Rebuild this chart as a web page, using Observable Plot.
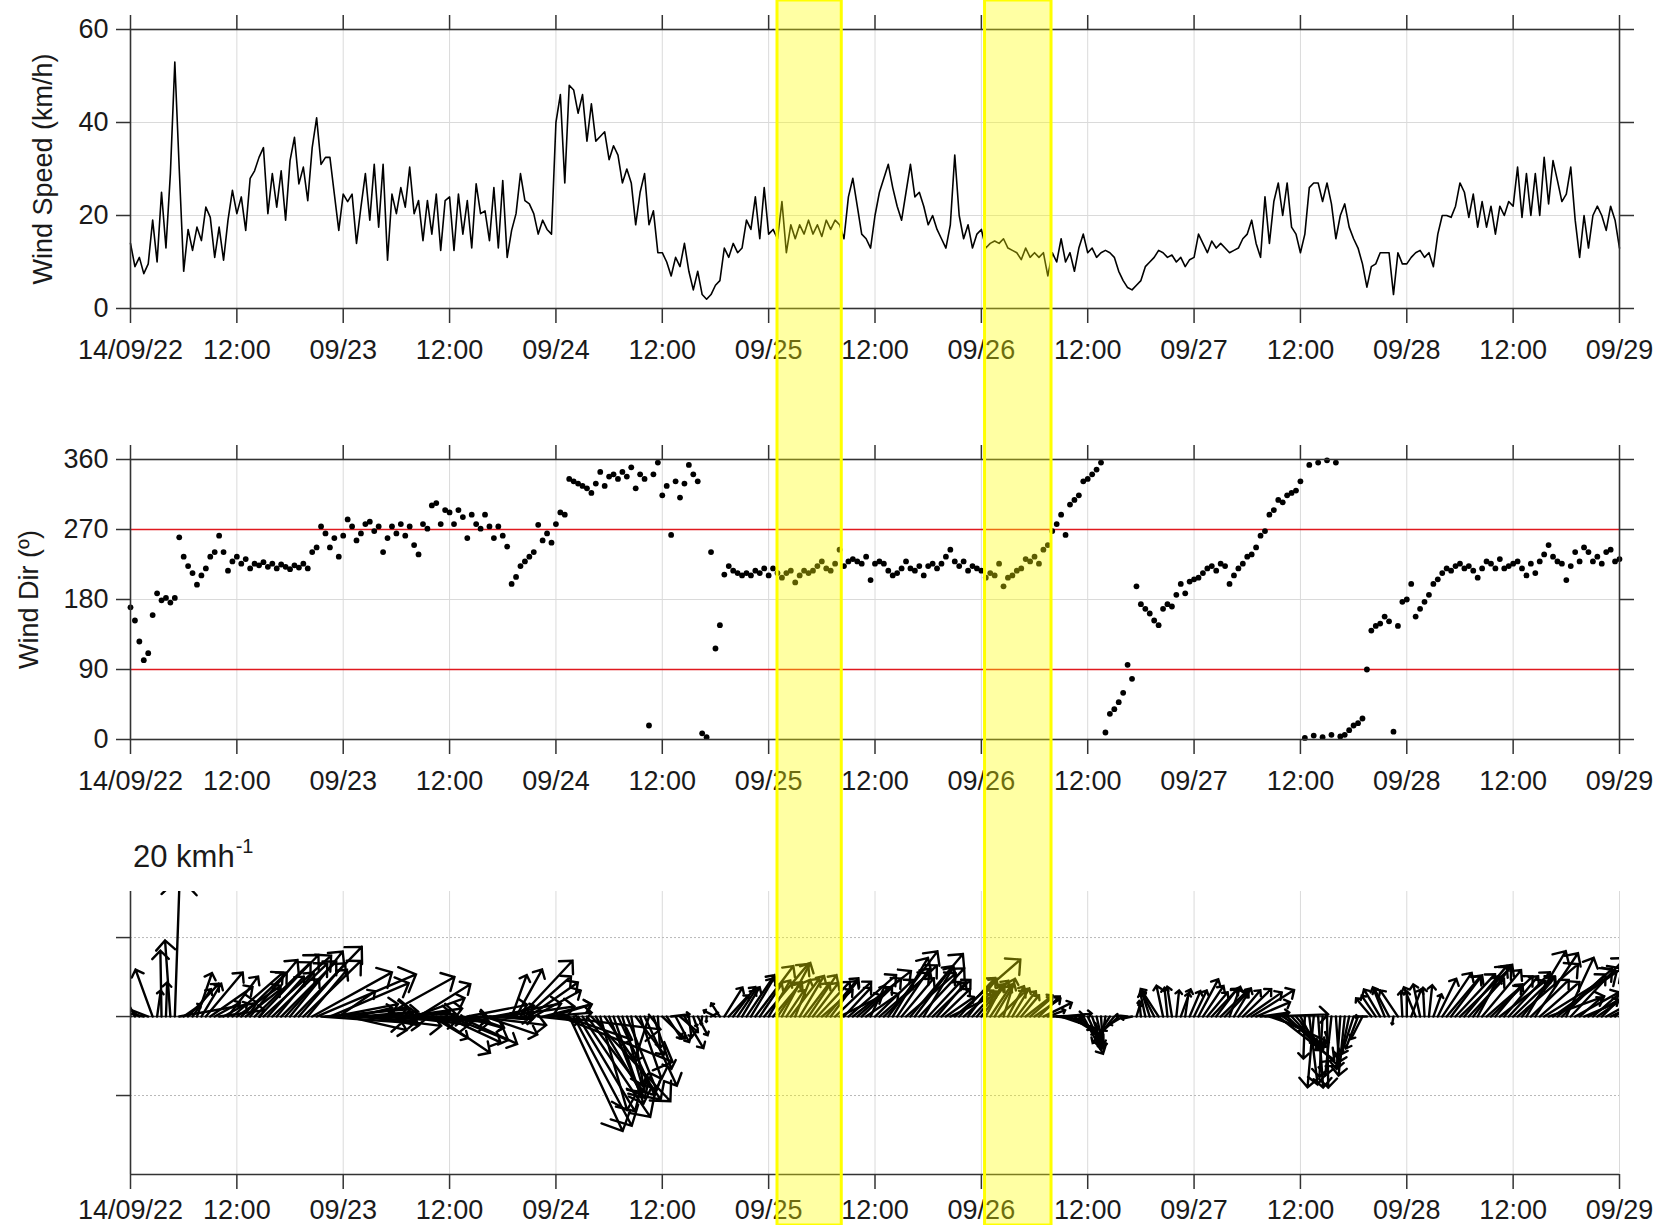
<!DOCTYPE html>
<html>
<head>
<meta charset="utf-8">
<script src="https://cdn.jsdelivr.net/npm/d3@7"></script>
<script src="https://cdn.jsdelivr.net/npm/@observablehq/plot@0.6"></script>
<style>
  html, body { margin: 0; padding: 0; background: #fff; }
  #chart { position: relative; width: 1673px; height: 1225px; overflow: hidden;
           font-family: "Liberation Sans", Arial, Helvetica, sans-serif; }
  .panel { position: absolute; left: 0; }
  .panel svg { overflow: visible; }
  #bands { position: absolute; left: 0; top: 0; pointer-events: none; }
  #scale-label { position: absolute; left: 133px; top: 834px; font-size: 31px;
                 line-height: 31px; color: #1a1a1a; white-space: nowrap; }
  #scale-label sup { font-size: 20px; position: relative; top: -3px; margin-left: 1px; }
</style>
</head>
<body>
<div id="chart">
  <div id="p1" class="panel" style="top:0px"></div>
  <div id="p2" class="panel" style="top:400px"></div>
  <div id="p3" class="panel" style="top:809px"></div>
  <div id="scale-label">20 kmh<sup>-1</sup></div>
  <div id="bands"></div>
</div>
<script>
// ---- time axis -------------------------------------------------------------
const startTime = Date.UTC(2014, 8, 22, 0, 0);      // 22 Sep 2014 00:00
const sampleMinutes = 30;                            // one record every 30 min

const xTickHours = [0, 12, 24, 36, 48, 60, 72, 84, 96, 108, 120, 132, 144, 156, 168];
const xTickLabels = ["14/09/22", "12:00", "09/23", "12:00", "09/24", "12:00", "09/25",
                     "12:00", "09/26", "12:00", "09/27", "12:00", "09/28", "12:00", "09/29"];

const speedTicks = [0, 20, 40, 60];
const dirTicks = [0, 90, 180, 270, 360];
const dirRefLines = [90, 270];
const vectorTicks = [-30, 0, 30];

// highlighted periods
const bandStart = ["2014-09-25T01:00Z", "2014-09-26T00:25Z"];
const bandEnd   = ["2014-09-25T08:15Z", "2014-09-26T07:55Z"];

// ---- wind speed (km/h), 30-min records, 22 Sep 00:00 .. 29 Sep 00:00 ----------
const windSpeed = [
  // 09/22
  14, 9, 11, 7.5, 9.6, 19, 10, 25, 13, 29, 53, 30,
  8, 17, 12.5, 17.5, 14.6, 21.8, 19.6, 11, 17.5, 10.4, 19, 25.4,
  20.4, 24, 16.8, 28, 29.6, 32.5, 34.6, 20.4, 29, 21.8, 29.6, 19,
  31.8, 36.8, 26.8, 30.4, 23.2, 34.6, 41, 31, 32.5, 32.5, 24.6, 16.8,
  // 09/23
  24.6, 23, 24.6, 14, 21.8, 29, 19, 31, 17.5, 31, 10.4, 24.6,
  20.4, 26, 21.8, 30.4, 20.4, 23.2, 14.6, 23.2, 16, 24.6, 12.5, 23.2,
  24, 12.5, 24.6, 16, 23.2, 13, 26.8, 20.4, 21, 14.6, 26, 13,
  27.5, 11, 16.8, 20.4, 29, 23.2, 22.5, 20.4, 16, 19, 17, 16,
  // 09/24
  40, 46, 27, 48, 47, 42, 46, 36, 44, 36, 37, 38,
  32, 35, 33, 27, 30, 27, 18, 25, 29, 18, 21, 12,
  12, 10, 7, 11, 9, 14, 8, 4, 8, 3, 2, 3,
  5, 6, 13, 11, 14, 12, 13, 19, 17, 24, 15, 26,
  // 09/25
  16, 17, 15, 23, 12, 18, 15, 18, 16, 19, 16, 18,
  15.5, 19, 17, 19, 18, 15, 24, 28, 22, 16, 15, 13,
  20, 25, 28, 31, 26, 22, 19, 25, 31, 24, 25, 22,
  18, 20, 17, 15, 13, 18, 33, 20, 15, 18, 13, 16,
  // 09/26
  17, 13, 14, 14.5, 14, 15, 13, 12.5, 12, 10.5, 13, 11,
  12, 11, 12, 7, 12, 10, 15, 10, 12, 8, 13, 16,
  12, 13, 11, 12, 12.5, 12, 11, 8, 6, 4.5, 4, 5,
  6, 9, 10, 11, 12.5, 12, 11, 11.5, 10, 11, 9, 10.5,
  // 09/27
  11, 16, 14, 12, 14.5, 13, 14, 13, 12, 12.5, 13, 15,
  16, 19, 14, 11, 24, 14, 23, 27, 20, 27, 17.5, 16,
  12, 16, 26, 27, 27, 23, 27, 22.5, 15, 20, 22.5, 17.5,
  15, 13, 9.6, 4.6, 9, 9.6, 12, 12, 12, 3, 12, 9.6,
  // 09/28
  9.6, 11, 12, 12.5, 11, 12, 9, 16, 20, 20, 19.6, 22,
  27, 25, 19.6, 24.6, 17.5, 23, 17.5, 22, 16, 22, 20, 23,
  22, 30.4, 19.6, 29, 20, 29, 20, 32.5, 22.5, 31.8, 27.5, 23,
  24.6, 30.4, 19, 11, 20, 13, 20, 22, 20, 16.8, 22, 19,
  // 09/29 00:00
  13
];

// ---- wind direction (degrees, direction the wind comes from) -----------------
const windDir = [
  // 09/22
  170, 153, 126, 102, 111, 160, 188, 179, 182, 176, 182, 260,
  235, 223, 214, 199, 211, 220, 235, 241, 262, 241, 217, 229,
  235, 226, 232, 220, 226, 224, 228, 222, 226, 220, 225, 222,
  219, 224, 221, 226, 220, 241, 247, 274, 265, 247, 259, 235,
  // 09/23
  262, 283, 274, 256, 265, 277, 280, 268, 274, 241, 259, 274,
  265, 277, 262, 274, 250, 238, 277, 271, 301, 304, 277, 295,
  292, 277, 295, 286, 259, 289, 277, 271, 289, 274, 259, 274,
  262, 248, 200, 209, 223, 229, 235, 241, 276, 256, 265, 253,
  // 09/24
  277, 292, 289, 335, 332, 329, 326, 323, 317, 329, 344, 326,
  338, 341, 335, 344, 338, 350, 323, 341, 335, 18, 341, 356,
  314, 326, 263, 332, 311, 329, 353, 341, 332, 8, 3, 241,
  117, 147, 212, 223, 217, 214, 211, 214, 211, 217, 214, 220,
  // 09/25
  211, 220, 214, 208, 214, 217, 202, 211, 217, 214, 217, 223,
  229, 220, 217, 226, 244, 223, 229, 232, 229, 226, 235, 205,
  226, 229, 226, 217, 211, 214, 220, 229, 220, 217, 223, 211,
  223, 226, 220, 226, 235, 244, 229, 223, 229, 217, 223, 220,
  // 09/26
  217, 208, 214, 211, 226, 197, 208, 211, 217, 220, 232, 229,
  235, 226, 244, 250, 268, 277, 289, 263, 302, 308, 314, 332,
  335, 341, 347, 356, 9, 33, 39, 48, 60, 96, 78, 197,
  174, 168, 162, 153, 147, 168, 174, 171, 186, 200, 188, 203,
  // 09/27
  206, 208, 214, 220, 223, 217, 226, 223, 200, 211, 220, 226,
  235, 238, 247, 262, 268, 289, 295, 308, 305, 314, 317, 320,
  332, 2, 353, 5, 356, 3, 359, 6, 356, 4, 6, 12,
  18, 21, 27, 90, 140, 146, 149, 158, 152, 10, 146, 177,
  // 09/28
  180, 200, 158, 168, 177, 186, 200, 206, 214, 220, 217, 223,
  226, 220, 223, 217, 208, 220, 229, 226, 220, 232, 220, 223,
  226, 229, 220, 211, 226, 214, 229, 238, 250, 235, 229, 226,
  205, 223, 241, 229, 247, 241, 229, 235, 226, 241, 244, 229,
  // 09/29 00:00
  232
];

// ---- tables built from the arrays above ----------------------------------------
const records = windSpeed.map((speed, i) => ({
  time: new Date(startTime + i * sampleMinutes * 60000),
  speed,
  dir: windDir[i]
}));
const xTicks = xTickHours.map(h => new Date(startTime + h * 3600000));
const bands = bandStart.map((s, i) => ({start: new Date(s), end: new Date(bandEnd[i])}));

// ---- shared layout / styling ------------------------------------------------------
const FONT = '"Liberation Sans", Arial, Helvetica, sans-serif';
const INK = "#1a1a1a";
const AXIS = "#333";
const GRID = "#dadada";
const FS = 27;
const WIDTH = 1673, ML = 130, MR = 54;
const xScale = {type: "utc", domain: [xTicks[0], xTicks[xTicks.length - 1]]};
const style = {fontFamily: FONT, fontSize: FS + "px", color: INK, background: "transparent", overflow: "visible"};
const xLabel = d => { const k = xTicks.findIndex(t => +t === +d); return k < 0 ? "" : xTickLabels[k]; };

function bottomAxis(pad) {
  return Plot.axisX({anchor: "bottom", ticks: xTicks, tickSize: 15, tickPadding: pad,
                     tickFormat: xLabel, label: null, stroke: AXIS, strokeWidth: 1.5, fill: INK});
}
function topTicks() {
  return Plot.axisX({anchor: "top", ticks: xTicks, tickSize: 15, tickFormat: () => "",
                     label: null, stroke: AXIS, strokeWidth: 1.5});
}
function yTitle(text, dx) {
  return Plot.text([text], {text: d => d, frameAnchor: "left", dx, rotate: -90,
                            fontSize: FS, fill: INK, textAnchor: "middle"});
}

// ---- panel 1: wind speed ---------------------------------------------------------
const p1 = Plot.plot({
  width: WIDTH, height: 29 + 279 + 70,
  marginLeft: ML, marginRight: MR, marginTop: 29, marginBottom: 70,
  x: xScale,
  y: {domain: [0, 60]},
  style,
  marks: [
    Plot.gridX({ticks: xTicks, stroke: GRID, strokeOpacity: 1}),
    Plot.gridY({ticks: [20, 40], stroke: GRID, strokeOpacity: 1}),
    Plot.line(records, {x: "time", y: "speed", stroke: "#000", strokeWidth: 1.6}),
    Plot.frame({stroke: AXIS, strokeWidth: 1.6}),
    bottomAxis(16),
    topTicks(),
    Plot.axisY({anchor: "left", ticks: speedTicks, tickSize: 14, tickPadding: 8,
                label: null, stroke: AXIS, strokeWidth: 1.5, fill: INK}),
    Plot.axisY({anchor: "right", ticks: speedTicks, tickSize: 14, tickFormat: () => "",
                label: null, stroke: AXIS, strokeWidth: 1.5}),
    yTitle("Wind Speed (km/h)", -87)
  ]
});
document.getElementById("p1").append(p1);

// ---- panel 2: wind direction -----------------------------------------------------
const p2 = Plot.plot({
  width: WIDTH, height: 59 + 280 + 70,
  marginLeft: ML, marginRight: MR, marginTop: 59, marginBottom: 70,
  x: xScale,
  y: {domain: [0, 360]},
  style,
  marks: [
    Plot.gridX({ticks: xTicks, stroke: GRID, strokeOpacity: 1}),
    Plot.gridY({ticks: [180], stroke: GRID, strokeOpacity: 1}),
    Plot.ruleY(dirRefLines, {stroke: "#e0191f", strokeWidth: 1.3}),
    Plot.dot(records, {x: "time", y: "dir", r: 2.9, fill: "#000", stroke: null}),
    Plot.frame({stroke: AXIS, strokeWidth: 1.6}),
    bottomAxis(16),
    topTicks(),
    Plot.axisY({anchor: "left", ticks: dirTicks, tickSize: 14, tickPadding: 8,
                label: null, stroke: AXIS, strokeWidth: 1.5, fill: INK}),
    Plot.axisY({anchor: "right", ticks: dirTicks, tickSize: 14, tickFormat: () => "",
                label: null, stroke: AXIS, strokeWidth: 1.5}),
    yTitle("Wind Dir (º)", -101)
  ]
});
document.getElementById("p2").append(p2);

// ---- panel 3: wind vectors (arrows point where the wind blows to) -------------------
const vecMin = -60, vecMax = 47.5, vecFrame = 283;
const pxPerKmh = vecFrame / (vecMax - vecMin);       // same scale along both directions
const p3 = Plot.plot({
  width: WIDTH, height: 82 + vecFrame + 51,
  marginLeft: ML, marginRight: MR, marginTop: 82, marginBottom: 51,
  x: xScale,
  y: {domain: [vecMin, vecMax]},
  length: {type: "linear", domain: [0, 30], range: [0, 30 * pxPerKmh]},
  style,
  marks: [
    Plot.gridX({ticks: xTicks, stroke: GRID, strokeOpacity: 1}),
    Plot.gridY({ticks: [-30, 30], stroke: "#b8b8b8", strokeOpacity: 1, strokeDasharray: "2,2"}),
    Plot.ruleY([0], {stroke: AXIS, strokeWidth: 1.6}),
    Plot.vector(records, {x: "time", y: () => 0, length: "speed", rotate: d => d.dir + 180,
                          anchor: "start", r: 2.2, stroke: "#000", strokeWidth: 2.4,
                          strokeLinejoin: "miter", clip: true}),
    Plot.ruleY([vecMin], {stroke: AXIS, strokeWidth: 1.6}),
    Plot.ruleX([xTicks[0]], {stroke: AXIS, strokeWidth: 1.6}),
    bottomAxis(10),
    Plot.axisY({anchor: "left", ticks: vectorTicks, tickSize: 14, tickFormat: () => "",
                label: null, stroke: AXIS, strokeWidth: 1.5})
  ]
});
document.getElementById("p3").append(p3);

// ---- highlighted periods across all panels ------------------------------------------
const overlay = Plot.plot({
  width: WIDTH, height: 1225,
  marginLeft: ML, marginRight: MR, marginTop: 0, marginBottom: 0,
  x: {...xScale, axis: null},
  y: {domain: [0, 1], axis: null},
  style: {background: "transparent", overflow: "visible"},
  marks: [
    Plot.rect(bands, {x1: "start", x2: "end", y1: () => 0, y2: () => 1,
                      fill: "#ffff00", fillOpacity: 0.36, stroke: "#ffff00", strokeWidth: 3})
  ]
});
document.getElementById("bands").append(overlay);
</script>
</body>
</html>
